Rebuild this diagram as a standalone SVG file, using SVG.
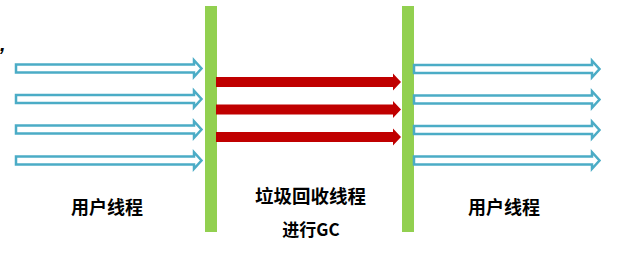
<svg xmlns="http://www.w3.org/2000/svg" width="621" height="266" viewBox="0 0 621 266">
<style>
.bar{fill:#92D050}
.ua{fill:#fff;stroke:#4BACC6;stroke-width:2.5;stroke-linejoin:miter}
.ga{fill:#C00000}
.t{font-family:"Noto Sans CJK SC","Liberation Sans",sans-serif;font-weight:bold;font-size:18px;fill:#000;text-anchor:middle}
</style>
<defs>
<path id="blue" d="M0,-4 H178 V-8.3 L185.5,0 L178,8.3 V4 H0 Z"/>
<path id="red" d="M0,-5 H177 V-8.5 L185,0 L177,8.5 V5 H0 Z"/>
</defs>
<rect width="621" height="266" fill="#fff"/>
<text x="0" y="51" font-family="Liberation Sans,sans-serif" font-weight="bold" font-size="20" font-style="italic">,</text>
<g id="bar-left"><rect class="bar" x="205" y="6" width="12" height="226"/></g>
<g id="bar-right"><rect class="bar" x="402" y="6" width="12" height="226"/></g>
<g id="connectors">
<use href="#blue" class="ua" x="16" y="68.5"/>
<use href="#blue" class="ua" x="16" y="99"/>
<use href="#blue" class="ua" x="16" y="129.5"/>
<use href="#blue" class="ua" x="16" y="160.5"/>
<use href="#red" class="ga" x="216" y="82"/>
<use href="#red" class="ga" x="216" y="109.5"/>
<use href="#red" class="ga" x="216" y="137"/>
<use href="#blue" class="ua" x="414" y="69"/>
<use href="#blue" class="ua" x="414" y="99.5"/>
<use href="#blue" class="ua" x="414" y="130"/>
<use href="#blue" class="ua" x="414" y="160.5"/>
</g>
<g id="label-user-left"><text class="t" x="107" y="214">用户线程</text></g>
<g id="label-gc"><text class="t" x="310.5" y="203" style="font-size:18.5px">垃圾回收线程</text>
<text class="t" x="311" y="236" style="font-size:17px">进行GC</text></g>
<g id="label-user-right"><text class="t" x="504" y="214">用户线程</text></g>
</svg>
